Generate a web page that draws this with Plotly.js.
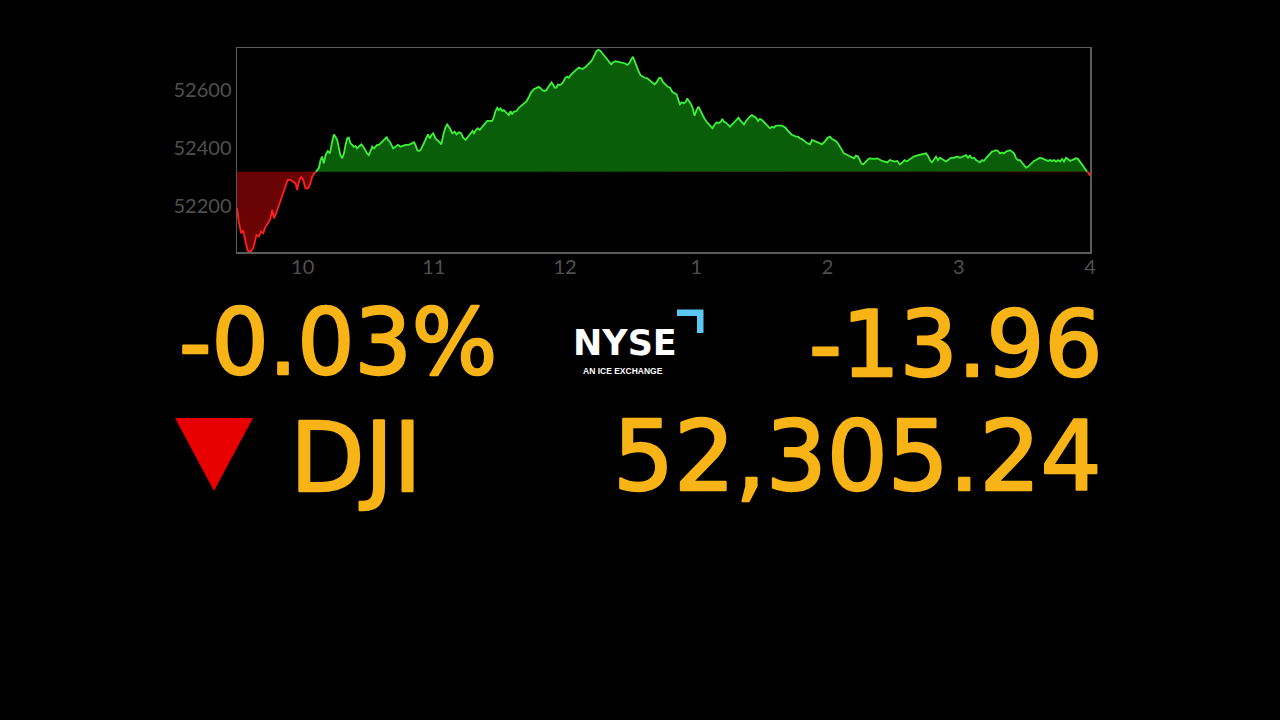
<!DOCTYPE html>
<html><head><meta charset="utf-8">
<script src="https://cdn.plot.ly/plotly-3.0.1.min.js"></script>
<style>
html,body{margin:0;padding:0;background:#000;overflow:hidden}
#chart{width:1280px;height:720px;}
g.annotation[data-index="0"] text, g.annotation[data-index="1"] text,
g.annotation[data-index="2"] text, g.annotation[data-index="3"] text { stroke:#f8b416; stroke-width:2.4px; stroke-linejoin:round; }
</style>
</head><body><div id="chart"></div>
<script>
// minutes after 9:30 open
const minutes = [0.0,0.8,1.9,2.8,3.9,4.9,6.2,7.4,8.0,8.9,10.0,11.0,12.0,13.0,14.1,15.3,16.1,16.9,17.6,18.7,19.9,21.1,22.2,23.2,24.5,25.7,26.8,27.5,28.3,29.3,30.3,31.3,32.4,33.3,34.4,35.4,36.4,37.4,38.2,38.9,39.7,40.5,41.5,42.5,43.5,44.3,45.0,45.8,46.6,47.3,48.1,48.9,49.6,50.4,51.1,51.9,52.7,53.4,54.2,54.9,55.7,56.8,57.7,58.8,59.5,60.3,61.1,61.8,62.6,63.3,64.1,64.9,65.6,66.8,67.9,68.4,69.0,69.9,70.5,71.4,72.5,73.6,74.8,76.0,77.1,78.6,79.7,80.9,81.6,82.4,83.2,83.9,85.1,86.2,87.3,88.2,88.9,89.7,90.8,92.3,93.4,94.3,95.4,96.1,97.3,98.4,99.5,100.4,101.4,102.5,103.4,104.5,105.6,106.8,107.7,108.3,109.2,110.1,111.0,112.1,113.2,114.4,115.6,116.7,117.5,118.2,119.0,119.7,120.5,121.3,122.0,122.8,123.5,124.3,125.1,125.8,126.6,127.8,128.9,130.0,131.2,132.4,133.5,134.5,135.7,137.0,138.0,138.8,139.6,140.6,141.5,142.1,143.1,143.8,144.6,145.2,146.1,146.7,147.3,148.2,149.2,150.1,151.0,151.7,152.5,153.4,154.3,155.3,156.2,157.1,158.0,159.0,159.8,160.9,162.0,162.9,163.8,164.4,165.3,166.2,167.0,167.8,168.5,169.3,170.2,171.1,172.0,173.0,173.9,174.8,175.7,176.6,177.5,178.4,179.3,180.3,181.0,181.8,182.7,183.6,184.5,185.4,186.4,187.6,188.8,189.9,190.9,191.8,192.9,193.7,194.9,196.0,197.0,198.0,199.0,200.1,201.0,201.6,202.5,203.4,204.3,205.2,205.9,206.6,207.4,208.3,209.2,210.1,211.0,212.0,212.9,213.8,215.0,216.2,217.4,218.4,219.3,220.2,221.1,221.9,222.6,223.5,224.5,225.4,226.4,227.5,228.4,229.3,230.0,230.9,231.8,232.7,233.6,234.5,235.4,236.4,237.3,238.2,239.1,240.0,240.9,241.8,242.7,243.7,244.6,245.5,246.4,247.3,248.2,249.1,250.1,251.0,251.9,252.8,253.7,254.6,255.6,256.5,257.4,258.3,259.2,260.1,261.0,262.0,262.9,263.8,264.7,265.6,266.5,267.4,268.4,269.3,270.2,271.1,272.0,272.9,273.9,274.8,275.7,276.6,277.5,278.4,279.3,280.3,281.2,282.1,283.0,283.9,284.8,285.4,286.3,287.3,288.2,289.1,291.2,292.7,294.0,295.0,296.1,297.3,298.5,299.6,300.7,301.9,303.1,304.2,305.2,306.2,307.2,308.3,309.5,310.7,311.8,312.9,314.1,315.0,315.9,316.8,317.7,318.7,319.6,320.5,321.4,322.3,323.2,324.2,325.1,326.0,326.9,327.8,328.7,329.6,330.5,331.5,332.4,333.3,334.2,335.1,336.0,337.0,337.9,338.8,339.7,340.6,341.5,342.4,343.4,344.3,345.2,346.1,347.0,347.9,348.8,349.8,350.7,351.6,352.5,353.4,354.3,355.3,356.2,357.1,358.0,358.9,359.8,360.7,361.6,362.6,363.5,364.4,365.3,366.2,367.1,368.1,369.0,369.9,370.8,371.7,372.6,373.5,374.5,375.4,376.3,377.2,378.1,379.0,379.9,380.9,381.8,382.7,383.6,384.5,385.4,386.3,387.3,388.2,389.1,390.0];
const dji = [52194,52148,52108,52119,52079,52048,52045,52057,52074,52102,52097,52114,52108,52131,52142,52159,52188,52159,52171,52194,52222,52251,52274,52291,52291,52285,52279,52256,52285,52302,52291,52262,52262,52274,52302,52314,52322,52331,52359,52371,52348,52376,52390,52382,52422,52447,52439,52428,52399,52376,52365,52382,52411,52433,52436,52416,52411,52405,52407,52399,52405,52413,52405,52390,52382,52376,52393,52405,52399,52405,52411,52411,52416,52422,52433,52439,52428,52422,52411,52399,52405,52411,52405,52408,52411,52411,52416,52420,52411,52393,52390,52393,52411,52431,52447,52433,52445,52451,52433,52422,52413,52445,52473,52481,52468,52451,52456,52447,52454,52451,52436,52428,52439,52454,52459,52451,52462,52468,52462,52473,52481,52493,52493,52493,52508,52527,52538,52530,52536,52527,52530,52525,52519,52513,52527,52516,52525,52527,52538,52545,52553,52561,52576,52591,52602,52607,52610,52605,52599,52596,52599,52607,52618,52625,52616,52607,52607,52618,52616,52618,52627,52641,52645,52641,52650,52656,52662,52671,52676,52673,52671,52676,52682,52690,52698,52710,52725,52733,52737,52733,52725,52717,52710,52702,52694,52687,52694,52698,52696,52694,52694,52690,52690,52685,52690,52705,52713,52698,52679,52664,52650,52645,52641,52639,52633,52625,52618,52625,52639,52641,52625,52618,52610,52607,52593,52588,52584,52570,52550,52557,52553,52559,52570,52561,52553,52538,52511,52530,52542,52527,52513,52500,52488,52477,52468,52481,52488,52485,52490,52500,52490,52488,52481,52473,52481,52490,52500,52504,52496,52488,52481,52493,52502,52508,52513,52508,52504,52493,52500,52496,52490,52481,52477,52468,52473,52470,52477,52477,52479,52477,52473,52468,52459,52451,52445,52443,52439,52439,52433,52431,52424,52420,52416,52413,52428,52424,52422,52420,52416,52413,52420,52428,52436,52439,52431,52428,52424,52416,52405,52390,52382,52379,52376,52371,52367,52365,52374,52371,52359,52348,52344,52354,52359,52365,52363,52365,52359,52356,52354,52351,52359,52356,52354,52356,52344,52351,52359,52354,52359,52367,52371,52374,52376,52379,52379,52382,52374,52359,52351,52363,52371,52359,52367,52363,52359,52354,52359,52365,52367,52367,52370,52371,52367,52371,52374,52376,52367,52374,52365,52367,52359,52356,52351,52359,52356,52365,52374,52382,52388,52390,52393,52390,52382,52385,52382,52388,52390,52393,52388,52382,52365,52359,52359,52351,52340,52333,52336,52344,52351,52356,52359,52363,52367,52365,52363,52359,52356,52359,52356,52359,52354,52359,52354,52363,52354,52367,52363,52356,52359,52363,52365,52363,52354,52344,52331,52322,52317,52305.24];
const prevClose = 52319.20;
const indexName = 'DJI';
const xTickVals = [30, 90, 150, 210, 270, 330, 390];
const xTickText = ['10', '11', '12', '1', '2', '3', '4'];
const yTickVals = [52200, 52400, 52600];
const yTickText = ['52200', '52400', '52600'];

// derived figures
const last = dji[dji.length - 1];
const change = last - prevClose;
const pct = change / prevClose * 100;
const lastText = last.toLocaleString('en-US', {minimumFractionDigits: 2, maximumFractionDigits: 2});
const changeText = change.toFixed(2);
const pctText = pct.toFixed(2) + '%';

// insert baseline crossings so fills and line colours split cleanly
const xs = [], ys = [];
for (let i = 0; i < minutes.length; i++) {
  xs.push(minutes[i]); ys.push(dji[i]);
  if (i < minutes.length - 1) {
    const a = dji[i] - prevClose, b = dji[i + 1] - prevClose;
    if (a * b < 0) {
      const t = a / (a - b);
      xs.push(minutes[i] + t * (minutes[i + 1] - minutes[i])); ys.push(prevClose);
    }
  }
}
const base = xs.map(() => prevClose);
const upper = ys.map(v => Math.max(v, prevClose));
const lower = ys.map(v => Math.min(v, prevClose));
const upLine = ys.map(v => v >= prevClose ? v : null);
const dnLine = ys.map(v => v <= prevClose ? v : null);

const GREEN_LINE = '#3ef03a', GREEN_FILL = '#0a5e0a';
const RED_LINE = '#ff1f1f', RED_FILL = '#6a0303';
const GOLD = '#f8b416';

const traces = [
  {x: xs, y: base, mode: 'lines', line: {width: 0}, hoverinfo: 'skip', showlegend: false},
  {x: xs, y: upper, mode: 'lines', line: {width: 0}, fill: 'tonexty', fillcolor: GREEN_FILL, hoverinfo: 'skip', showlegend: false},
  {x: xs, y: base, mode: 'lines', line: {width: 0}, hoverinfo: 'skip', showlegend: false},
  {x: xs, y: lower, mode: 'lines', line: {width: 0}, fill: 'tonexty', fillcolor: RED_FILL, hoverinfo: 'skip', showlegend: false},
  {x: xs, y: upLine, mode: 'lines', line: {color: GREEN_LINE, width: 1.8}, connectgaps: false, hoverinfo: 'skip', showlegend: false},
  {x: xs, y: dnLine, mode: 'lines', line: {color: RED_LINE, width: 1.8}, connectgaps: false, hoverinfo: 'skip', showlegend: false}
];

// page geometry (pixels) -> paper coordinates
const ML = 237, MR = 190, MT = 48, MB = 468;
const PW = 1280 - ML - MR, PH = 720 - MT - MB;
const px = x => (x - ML) / PW;
const py = y => (720 - MB - y) / PH;

const bigFont = (size) => ({family: 'DejaVu Sans', size: size, color: GOLD});

const annotations = [
  {xref: 'paper', yref: 'paper', x: px(177), y: py(342), xanchor: 'left', yanchor: 'middle', showarrow: false, text: pctText, font: bigFont(90)},
  {xref: 'paper', yref: 'paper', x: px(1104), y: py(344), xanchor: 'right', yanchor: 'middle', showarrow: false, text: changeText, font: bigFont(91)},
  {xref: 'paper', yref: 'paper', x: px(288), y: py(457), xanchor: 'left', yanchor: 'middle', showarrow: false, text: indexName, font: bigFont(97)},
  {xref: 'paper', yref: 'paper', x: px(1104), y: py(457), xanchor: 'right', yanchor: 'middle', showarrow: false, text: lastText, font: bigFont(96)},
  {xref: 'paper', yref: 'paper', x: px(625), y: py(343), xanchor: 'center', yanchor: 'middle', showarrow: false, text: '<b>NYSE</b>', font: {family: 'DejaVu Sans', size: 35, color: '#ffffff'}},
  {xref: 'paper', yref: 'paper', x: px(623), y: py(370.5), xanchor: 'center', yanchor: 'middle', showarrow: false, text: '<b>AN ICE EXCHANGE</b>', font: {family: 'Liberation Sans', size: 8.5, color: '#ffffff'}}
];

const shapes = [
  // down indicator
  {type: 'path', xref: 'paper', yref: 'paper', line: {width: 0}, fillcolor: '#e80000',
   path: `M ${px(175)},${py(418)} L ${px(253)},${py(418)} L ${px(214)},${py(491)} Z`},
  // NYSE corner mark
  {type: 'path', xref: 'paper', yref: 'paper', line: {width: 0}, fillcolor: '#5cc8f2',
   path: `M ${px(677)},${py(309.5)} L ${px(703.5)},${py(309.5)} L ${px(703.5)},${py(333)} L ${px(697)},${py(333)} L ${px(697)},${py(316)} L ${px(677)},${py(316)} Z`}
];

const layout = {
  width: 1280, height: 720,
  margin: {l: ML, r: MR, t: MT, b: MB, pad: 0},
  paper_bgcolor: '#000000', plot_bgcolor: '#000000',
  showlegend: false,
  xaxis: {range: [0, 390], showgrid: false, zeroline: false, showline: true, mirror: true,
    linecolor: '#5c5c5c', linewidth: 1.5, tickmode: 'array', tickvals: xTickVals, ticktext: xTickText,
    ticks: '', ticklabelstandoff: -4, tickfont: {family: 'Lato', size: 20, color: '#505050'}, fixedrange: true},
  yaxis: {range: [52044, 52743], showgrid: false, zeroline: false, showline: true, mirror: true,
    linecolor: '#5c5c5c', linewidth: 1.5, tickmode: 'array', tickvals: yTickVals, ticktext: yTickText,
    ticks: '', tickfont: {family: 'Lato', size: 20, color: '#505050'}, fixedrange: true},
  annotations: annotations,
  shapes: shapes
};

Plotly.newPlot('chart', traces, layout, {staticPlot: true, displayModeBar: false});
</script>
</body></html>
